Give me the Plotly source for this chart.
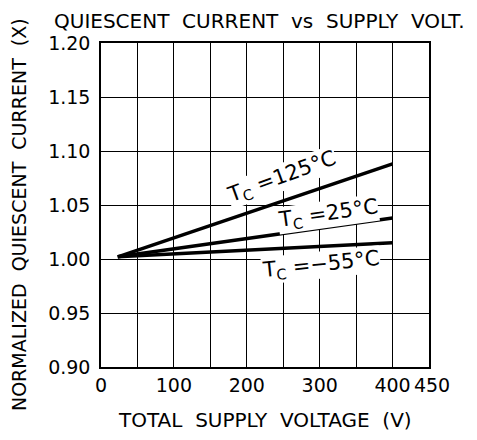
import plotly.graph_objects as go

voltage = [23, 400]
i_125 = [1.002, 1.088]
i_25 = [1.002, 1.038]
i_m55 = [1.002, 1.015]

x_ticks = [0, 50, 100, 150, 200, 250, 300, 350, 400, 450]
x_labels = ["0", "", "100", "", "200", "", "300", "", "400", "\u00a0450"]
y_ticks = [0.90, 0.95, 1.00, 1.05, 1.10, 1.15, 1.20]
y_labels = ["0.90", "0.95", "1.00", "1.05", "1.10", "1.15", "1.20"]

FONT = "DejaVu Sans"

fig = go.Figure()
for ys in (i_125, i_25, i_m55):
    fig.add_trace(go.Scatter(x=voltage, y=ys, mode="lines",
                             line=dict(color="black", width=3.5),
                             showlegend=False, hoverinfo="skip"))

ann = [
    (249, 1.076, "T<sub>C</sub> =125°C", -20),
    (312, 1.042, "T<sub>C</sub> =25°C", -8),
    (302, 0.994, "T<sub>C</sub> =−55°C", -6),
]
for x, y, t, a in ann:
    fig.add_annotation(x=x, y=y, text=t, textangle=a, showarrow=False,
                       font=dict(family=FONT, size=21, color="black"),
                       bgcolor="white", borderpad=0)

# axis titles and chart title as paper-positioned texts
fig.add_annotation(xref="paper", yref="paper", x=0.5, y=-0.164, yanchor="middle",
                   text="TOTAL  SUPPLY  VOLTAGE  (V)", showarrow=False,
                   font=dict(family=FONT, size=20, color="black"))
fig.add_annotation(xref="paper", yref="paper", x=-0.25, y=0.469, xanchor="center",
                   text="NORMALIZED  QUIESCENT  CURRENT  (X)", textangle=-90,
                   showarrow=False, font=dict(family=FONT, size=19, color="black"))
fig.add_annotation(xref="paper", yref="paper", x=0.482, y=1.068, yanchor="middle",
                   text="QUIESCENT  CURRENT  vs  SUPPLY  VOLT.", showarrow=False,
                   font=dict(family=FONT, size=20, color="black"))

# page body has an 8px default margin, so the figure is sized to fit inside it
fig.update_layout(
    width=469, height=432,
    margin=dict(l=93, r=48, t=35, b=73, autoexpand=False),
    paper_bgcolor="white", plot_bgcolor="white",
    font=dict(family=FONT, color="black", size=19),
    xaxis=dict(range=[0, 450], tickvals=x_ticks, ticktext=x_labels,
               showgrid=True, gridcolor="black", gridwidth=1,
               showline=True, linecolor="black", linewidth=1.5, mirror=True,
               ticks="", zeroline=False,
               automargin=False, tickangle=0,
               tickfont=dict(family=FONT, size=19)),
    yaxis=dict(range=[0.90, 1.20], tickvals=y_ticks, ticktext=y_labels,
               showgrid=True, gridcolor="black", gridwidth=1,
               showline=True, linecolor="black", linewidth=1.5, mirror=True,
               ticks="outside", ticklen=5, tickcolor="white", zeroline=False,
               automargin=False,
               tickfont=dict(family=FONT, size=19)),
)

fig.write_html("out.html")
